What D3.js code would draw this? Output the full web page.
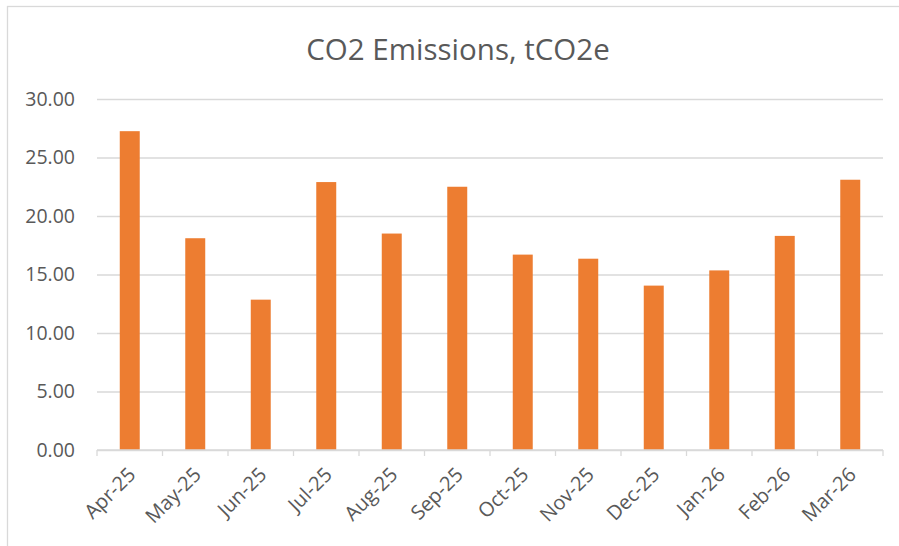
<!DOCTYPE html>
<html>
<head>
<meta charset="utf-8">
<title>CO2 Emissions</title>
<script src="https://cdn.jsdelivr.net/npm/d3@7"></script>
<style>
body { margin: 0; background: #fff; }
svg text { font-family: "Open Sans", sans-serif; fill: #595959; }
.grid line { stroke: #d9d9d9; stroke-width: 1.3; }
.grid path { display: none; }
.xaxis path, .xaxis line { stroke: #d9d9d9; stroke-width: 1.3; }
</style>
</head>
<body>
<script>
// monthly emissions
const months = ["Apr-25", "May-25", "Jun-25", "Jul-25", "Aug-25", "Sep-25",
                "Oct-25", "Nov-25", "Dec-25", "Jan-26", "Feb-26", "Mar-26"]
const emissions = [27.25, 18.1, 12.85, 22.9, 18.5, 22.5, 16.7, 16.35, 14.05, 15.35, 18.3, 23.1]
const yTicks = [0, 5, 10, 15, 20, 25, 30]

const W = 899, H = 546
const margin = {top: 99, right: 16, bottom: 96, left: 97}
const width = 883 - margin.left
const height = 450 - margin.top

const data = months.map((m, i) => ({month: m, value: emissions[i]}))

const svg = d3.select("body").append("svg")
    .attr("width", W)
    .attr("height", H)

// chart border (only top and left edges show in the frame)
svg.append("rect")
    .attr("x", 7.5).attr("y", 6.5)
    .attr("width", W + 10).attr("height", H + 10)
    .attr("fill", "none")
    .attr("stroke", "#d9d9d9")
    .attr("stroke-width", 1.3)

svg.append("text")
    .attr("x", 458)
    .attr("y", 60)
    .attr("text-anchor", "middle")
    .style("font-size", "29.5px")
    .text("CO2 Emissions, tCO2e")

const g = svg.append("g")
    .attr("transform", "translate(" + margin.left + "," + margin.top + ")")

const x = d3.scaleBand()
    .domain(months)
    .range([0, width])
    .paddingInner(0.695)
    .paddingOuter(0.3475)

const y = d3.scaleLinear()
    .domain([0, 30])
    .range([height, 0])

// gridlines
g.append("g")
    .attr("class", "grid")
    .call(d3.axisLeft(y).tickValues(yTicks).tickSize(-width).tickFormat(""))

// y labels
g.selectAll(".ylab")
  .data(yTicks)
  .enter().append("text")
    .attr("class", "ylab")
    .attr("x", -22)
    .attr("y", d => y(d))
    .attr("dy", "0.35em")
    .attr("text-anchor", "end")
    .style("font-size", "19.5px")
    .text(d => d3.format(".2f")(d))

g.selectAll(".bar")
  .data(data)
  .enter().append("rect")
    .attr("class", "bar")
    .attr("x", d => x(d.month))
    .attr("y", d => y(d.value))
    .attr("width", x.bandwidth())
    .attr("height", d => height - y(d.value))
    .attr("fill", "#ed7d31")

// x axis with ticks between categories
const step = x.step()
const xa = g.append("g")
    .attr("class", "xaxis")
    .attr("transform", "translate(0," + height + ")")
xa.append("line")
    .attr("x1", 0).attr("x2", width)
xa.selectAll(".tk")
  .data(d3.range(months.length + 1))
  .enter().append("line")
    .attr("class", "tk")
    .attr("x1", i => i * step).attr("x2", i => i * step)
    .attr("y1", 0).attr("y2", 6)

xa.selectAll(".xlab")
  .data(months)
  .enter().append("text")
    .attr("class", "xlab")
    .attr("text-anchor", "end")
    .attr("transform", d => "translate(" + (x(d) + x.bandwidth() / 2 + 7) + ",26) rotate(-45)")
    .style("font-size", "20px")
    .text(d => d)
</script>
</body>
</html>
